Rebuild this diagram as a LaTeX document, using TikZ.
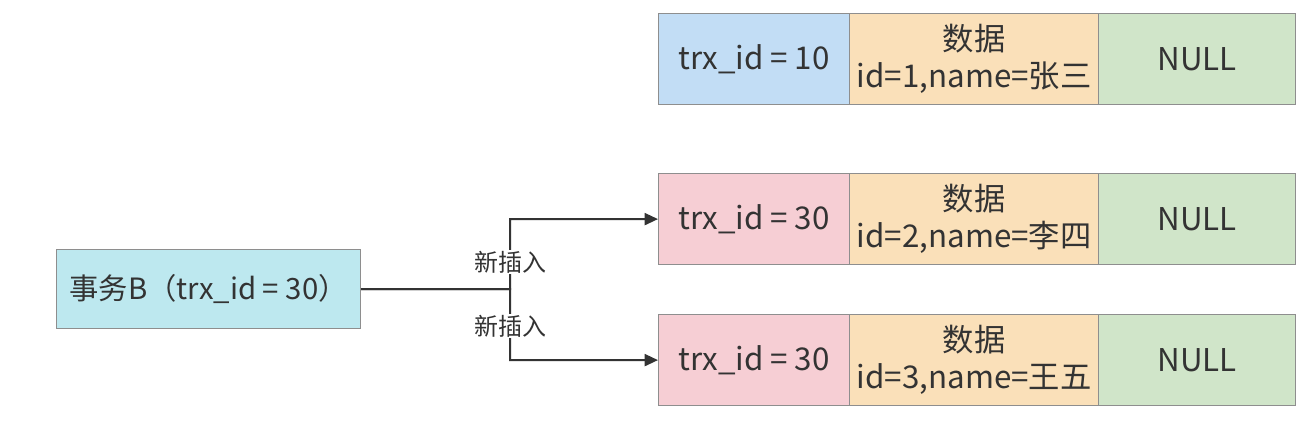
\documentclass[tikz,border=0pt]{standalone}
\usepackage{fontspec}
\setmainfont{Noto Sans CJK SC}
\usetikzlibrary{arrows.meta}
\definecolor{cblue}{HTML}{C2DDF5}
\definecolor{corange}{HTML}{FAE0B9}
\definecolor{cgreen}{HTML}{D0E5C9}
\definecolor{cpink}{HTML}{F6CED4}
\definecolor{ccyan}{HTML}{BDE8EF}
\definecolor{cborder}{HTML}{8E8E8E}
\definecolor{ctext}{HTML}{333333}
\tikzset{
  cell/.style={draw=cborder, line width=0.9pt, minimum height=68.25pt, inner sep=0pt, text=ctext, font=\fontsize{23.5}{28}\selectfont, align=center, anchor=north west},
  conn/.style={draw=ctext, line width=1.5pt, -{Triangle[length=10pt,width=9pt]}},
  lbl/.style={fill=white, inner sep=1pt, text=ctext, font=\fontsize{18}{20}\selectfont}
}
\begin{document}
\begin{tikzpicture}[x=0.75pt,y=-0.75pt]
\useasboundingbox (0,0) rectangle (1313,421);
% row 1
\node[cell, fill=cblue, minimum width=143.25pt] (r1a) at (658,13) {trx\_id = 10};
\node[cell, fill=corange, minimum width=186.75pt] (r1b) at (849,13) {数据\\id=1,name=张三};
\node[cell, fill=cgreen, minimum width=147.75pt] (r1c) at (1098,13) {NULL};
% row 2
\node[cell, fill=cpink, minimum width=143.25pt] (r2a) at (658,173) {trx\_id = 30};
\node[cell, fill=corange, minimum width=186.75pt] (r2b) at (849,173) {数据\\id=2,name=李四};
\node[cell, fill=cgreen, minimum width=147.75pt] (r2c) at (1098,173) {NULL};
% row 3
\node[cell, fill=cpink, minimum width=143.25pt] (r3a) at (658,314) {trx\_id = 30};
\node[cell, fill=corange, minimum width=186.75pt] (r3b) at (849,314) {数据\\id=3,name=王五};
\node[cell, fill=cgreen, minimum width=147.75pt] (r3c) at (1098,314) {NULL};
% transaction
\node[cell, fill=ccyan, minimum width=228pt, minimum height=59.25pt, font=\fontsize{22}{26}\selectfont] (tb) at (56,249) {事务B（trx\_id = 30）};
\coordinate (j) at (510,289);
\draw[conn] (tb.east) -- (j) |- (r2a.west);
\draw[conn] (tb.east) -- (j) |- (r3a.west);
\node[lbl] (l1) at (510,262) {新插入};
\node[lbl] (l2) at (510,326) {新插入};
\end{tikzpicture}
\end{document}
